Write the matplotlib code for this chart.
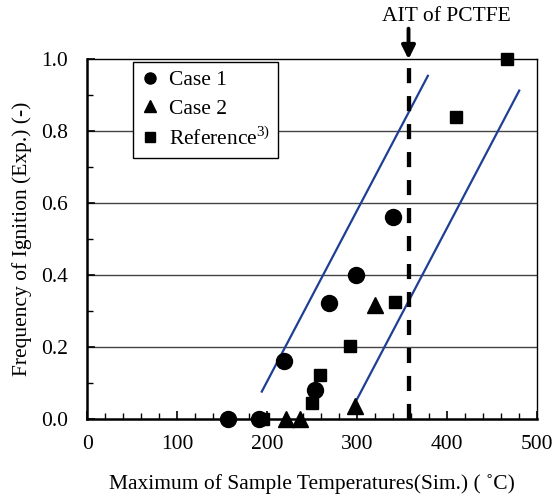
import matplotlib
matplotlib.use("Agg")
import matplotlib.pyplot as plt
from matplotlib.ticker import MultipleLocator
from matplotlib.lines import Line2D

plt.rcParams['font.family'] = ['Liberation Serif', 'DejaVu Serif']
plt.rcParams['mathtext.fontset'] = 'custom'
plt.rcParams['mathtext.rm'] = 'Liberation Serif'

# data
case1_x = [157, 191, 219, 253, 269, 299, 340]
case1_y = [0.0, 0.0, 0.163, 0.081, 0.322, 0.400, 0.563]
case2_x = [221, 237, 298, 320]
case2_y = [0.0, 0.0, 0.037, 0.318]
ref_x = [195, 250, 259, 292, 342, 410, 466]
ref_y = [0.0, 0.044, 0.123, 0.204, 0.325, 0.841, 1.0]

band1_x = [194, 378.5]
band1_y = [0.077, 0.954]
band2_x = [295, 480]
band2_y = [0.033, 0.913]

ait = 357

fs = 15.5

fig = plt.figure(figsize=(5.55, 4.98), dpi=100)
ax = fig.add_axes([0.157, 0.158, 0.811, 0.723])

ax.set_xlim(0, 500)
ax.set_ylim(0, 1.0)

for y in [0.2, 0.4, 0.6, 0.8]:
    ax.axhline(y, color='#444444', lw=1.0, zorder=1)

blue = '#1f3f94'
ax.plot(band1_x, band1_y, color=blue, lw=1.6, zorder=2)
ax.plot(band2_x, band2_y, color=blue, lw=1.6, zorder=2)

ax.plot([ait, ait], [0, 1.0], color='black', lw=3.1, dashes=(3.5, 3.0), zorder=3)

ax.plot(ref_x, ref_y, 's', color='black', ms=8.5, clip_on=False, zorder=4)
ax.plot(case1_x, case1_y, 'o', color='black', ms=11.5, clip_on=False, zorder=5)
ax.plot(case2_x, case2_y, '^', color='black', ms=12, clip_on=False, zorder=5)

# arrow + label for AIT
ax.annotate('', xy=(ait, 1.0), xytext=(ait, 1.085), xycoords='data',
            arrowprops=dict(arrowstyle='-|>', color='black', lw=2.8,
                            mutation_scale=20, shrinkA=0, shrinkB=0),
            annotation_clip=False)
fig.text(446 / 555, 1 - 16.5 / 498, 'AIT of PCTFE', ha='center', va='center', fontsize=fs)

ax.xaxis.set_major_locator(MultipleLocator(100))
ax.xaxis.set_minor_locator(MultipleLocator(20))
ax.yaxis.set_major_locator(MultipleLocator(0.2))
ax.yaxis.set_minor_locator(MultipleLocator(0.1))
ax.yaxis.set_major_formatter(plt.FormatStrFormatter('%.1f'))
ax.tick_params(which='both', direction='in', labelsize=fs, color='black')
ax.tick_params(which='major', length=6, width=1.2)
ax.tick_params(which='minor', length=4, width=1.0)
ax.tick_params(axis='x', pad=11)
ax.tick_params(axis='y', pad=14)

ax.spines['left'].set_linewidth(1.8)
ax.spines['bottom'].set_linewidth(1.8)
ax.spines['top'].set_linewidth(1.0)
ax.spines['right'].set_linewidth(1.0)

ax.set_xlabel('Maximum of Sample Temperatures(Sim.) ( ˚C)', fontsize=fs, labelpad=15)
ax.set_ylabel('Frequency of Ignition (Exp.) (-)', fontsize=fs, labelpad=6)

handles = [
    Line2D([], [], ls='none', marker='o', color='black', ms=8),
    Line2D([], [], ls='none', marker='^', color='black', ms=8.5),
    Line2D([], [], ls='none', marker='s', color='black', ms=7.5),
]
leg = ax.legend(handles, ['Case 1', 'Case 2', 'Reference$^{3)}$'],
                loc='upper left', bbox_to_anchor=(0.102, 0.993), fontsize=fs,
                frameon=True, fancybox=False, framealpha=1, edgecolor='black',
                handlelength=0.8, handletextpad=0.45, labelspacing=0.38,
                borderpad=0.4, borderaxespad=0)
leg.get_frame().set_linewidth(1.0)
leg.set_zorder(10)

fig.savefig('out.png', dpi=100)
